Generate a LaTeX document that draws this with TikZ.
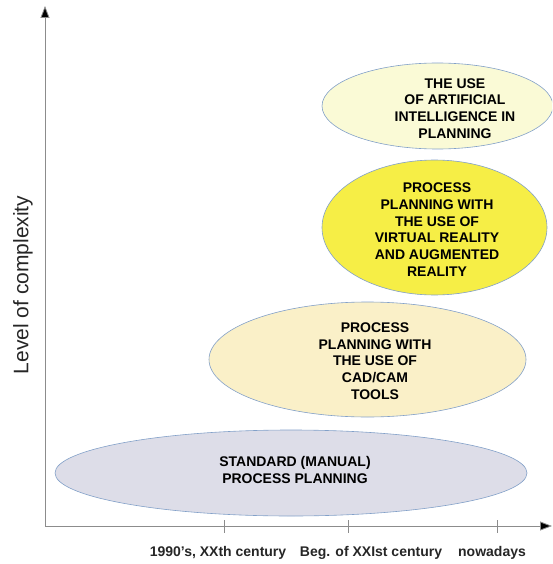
\documentclass[tikz,border=0pt]{standalone}
\usepackage{fontspec}
\setmainfont{Liberation Sans}
\usetikzlibrary{arrows.meta,shapes.geometric}
\definecolor{axisgray}{RGB}{140,140,140}
\definecolor{rimblue}{RGB}{130,160,200}
\definecolor{lavender}{RGB}{221,221,232}
\definecolor{cream}{RGB}{250,240,200}
\definecolor{brightyellow}{RGB}{246,238,70}
\definecolor{paleyellow}{RGB}{250,250,214}
\tikzset{
  axisline/.style={draw=axisgray, line width=0.8pt, -{Triangle[length=12pt,width=9pt,fill=black]}},
  tickline/.style={draw=axisgray, line width=0.6pt},
  ell/.style={ellipse, draw=rimblue, line width=0.6pt, inner sep=0pt},
  lbl/.style={font=\fontsize{14}{16.7}\selectfont\bfseries, align=center, text=black, inner sep=0pt},
  ticklbl/.style={font=\fontsize{14}{16}\selectfont\bfseries, text=black!85, inner sep=0pt},
}
\begin{document}
\begin{tikzpicture}[x=1pt,y=-1pt]
\useasboundingbox (0,0) rectangle (552,564);
\clip (0,0) rectangle (552,564);
% ellipses
\node[ell, fill=lavender, minimum width=472pt, minimum height=86pt] (e1) at (291,473) {};
\node[ell, fill=cream, minimum width=317pt, minimum height=115pt] (e2) at (367.5,359.5) {};
\node[ell, fill=brightyellow, minimum width=225pt, minimum height=135pt] (e3) at (434.5,227.5) {};
\node[ell, fill=paleyellow, minimum width=231pt, minimum height=86pt] (e4) at (437.5,106) {};
% texts
\node[lbl] (t1) at (295,470) {STANDARD (MANUAL)\\PROCESS PLANNING};
\node[lbl] (t2) at (375,361) {PROCESS\\PLANNING WITH\\THE USE OF\\CAD/CAM\\TOOLS};
\node[lbl] (t3) at (437,229.5) {PROCESS\\PLANNING WITH\\THE USE OF\\VIRTUAL REALITY\\AND AUGMENTED\\REALITY};
\node[lbl] (t4) at (455,108.5) {THE USE\\OF ARTIFICIAL\\INTELLIGENCE IN\\PLANNING};
% axes
\coordinate (o) at (45,526);
\coordinate (ytop) at (45,6);
\coordinate (xend) at (552,526);
\draw[axisline] (o) -- (ytop);
\draw[axisline] (o) -- (xend);
% ticks
\coordinate (k1a) at (224,520); \coordinate (k1b) at (224,533);
\coordinate (k2a) at (348,520); \coordinate (k2b) at (348,533);
\coordinate (k3a) at (497,520); \coordinate (k3b) at (497,533);
\draw[tickline] (k1a) -- (k1b);
\draw[tickline] (k2a) -- (k2b);
\draw[tickline] (k3a) -- (k3b);
% tick labels
\node[ticklbl] (l1) at (218,553) {1990's, XXth century};
\node[ticklbl] (l2) at (371,553) {Beg. of XXIst century};
\node[ticklbl] (l3) at (492,553) {nowadays};
% y label
\node[rotate=90, font=\fontsize{21}{24}\selectfont, text=black!85, inner sep=0pt] (yl) at (23,285) {Level of complexity};
\end{tikzpicture}
\end{document}
